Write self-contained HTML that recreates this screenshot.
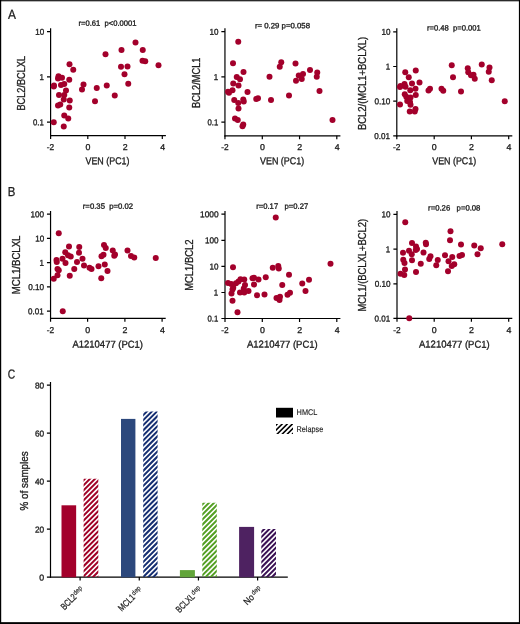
<!DOCTYPE html>
<html lang="en">
<head>
<meta charset="utf-8">
<title>Figure</title>
<style>
html,body{margin:0;padding:0;background:#fff;}
body{width:520px;height:624px;overflow:hidden;}
svg{display:block;font-family:"Liberation Sans",sans-serif;}
.ax path{stroke:#000;stroke-width:1.2;fill:none;}
text{stroke:#1c1c1c;stroke-width:0.32px;white-space:pre;}
</style>
</head>
<body>
<svg width="520" height="624" viewBox="0 0 520 624">
<defs><clipPath id="cr"><rect x="83.60" y="478.70" width="14.70" height="98.30"/></clipPath><clipPath id="cb"><rect x="143.20" y="411.50" width="14.40" height="165.50"/></clipPath><clipPath id="cg"><rect x="202.30" y="502.70" width="14.50" height="74.30"/></clipPath><clipPath id="cp"><rect x="261.30" y="529.10" width="14.70" height="47.90"/></clipPath><clipPath id="ck"><rect x="276.00" y="424.00" width="17.00" height="10.00"/></clipPath></defs>
<rect x="0" y="0" width="520" height="624" fill="#fff"/>
<g class="ax">
<path stroke-width="1.25" d="M50.60 28.20V136.15"/>
<path stroke-width="1.3" d="M50.05 135.60H165.90"/>
<path d="M47.00 31.60H50.60M47.00 76.90H50.60M47.00 122.10H50.60M50.60 135.60V139.00M87.80 135.60V139.00M125.00 135.60V139.00M162.30 135.60V139.00"/>
</g>
<text font-size="8.5" text-anchor="end" textLength="9.00" lengthAdjust="spacingAndGlyphs" transform="translate(44.20 34.65) rotate(0.05)" fill="#1c1c1c" xml:space="preserve">10</text>
<text font-size="8.5" text-anchor="end" textLength="4.40" lengthAdjust="spacingAndGlyphs" transform="translate(43.85 79.95) rotate(0.05)" fill="#1c1c1c" xml:space="preserve">1</text>
<text font-size="8.5" text-anchor="end" textLength="10.80" lengthAdjust="spacingAndGlyphs" transform="translate(43.85 125.15) rotate(0.05)" fill="#1c1c1c" xml:space="preserve">0.1</text>
<text font-size="8.5" text-anchor="middle" textLength="7.40" lengthAdjust="spacingAndGlyphs" transform="translate(50.50 150.00) rotate(0.05)" fill="#1c1c1c" xml:space="preserve">-2</text>
<text font-size="8.5" text-anchor="middle" textLength="4.90" lengthAdjust="spacingAndGlyphs" transform="translate(87.90 150.00) rotate(0.05)" fill="#1c1c1c" xml:space="preserve">0</text>
<text font-size="8.5" text-anchor="middle" textLength="4.90" lengthAdjust="spacingAndGlyphs" transform="translate(125.10 150.00) rotate(0.05)" fill="#1c1c1c" xml:space="preserve">2</text>
<text font-size="8.5" text-anchor="middle" textLength="4.90" lengthAdjust="spacingAndGlyphs" transform="translate(162.65 150.00) rotate(0.05)" fill="#1c1c1c" xml:space="preserve">4</text>
<text font-size="7.7" textLength="58.00" lengthAdjust="spacingAndGlyphs" transform="translate(78.50 25.80) rotate(0.05)" fill="#1c1c1c" xml:space="preserve">r=0.61  p&lt;0.0001</text>
<text font-size="10.4" textLength="54.50" lengthAdjust="spacingAndGlyphs" transform="translate(25.20 110.50) rotate(-90)" fill="#1c1c1c" xml:space="preserve">BCL2/BCLXL</text>
<text font-size="10.0" textLength="44.00" lengthAdjust="spacingAndGlyphs" transform="translate(85.50 164.30) rotate(0.05)" fill="#1c1c1c" xml:space="preserve">VEN (PC1)</text>
<g fill="#A3002B">
<circle cx="135.50" cy="42.50" r="3.0"/>
<circle cx="142.75" cy="50.00" r="3.0"/>
<circle cx="121.50" cy="50.00" r="3.0"/>
<circle cx="105.50" cy="54.25" r="3.0"/>
<circle cx="142.50" cy="60.75" r="3.0"/>
<circle cx="145.25" cy="61.25" r="3.0"/>
<circle cx="158.50" cy="65.25" r="3.0"/>
<circle cx="69.50" cy="64.25" r="3.0"/>
<circle cx="73.25" cy="69.75" r="3.0"/>
<circle cx="121.00" cy="66.75" r="3.0"/>
<circle cx="127.50" cy="66.50" r="3.0"/>
<circle cx="124.50" cy="74.25" r="3.0"/>
<circle cx="58.50" cy="76.25" r="3.0"/>
<circle cx="62.00" cy="77.75" r="3.0"/>
<circle cx="58.00" cy="78.50" r="3.0"/>
<circle cx="69.25" cy="79.75" r="3.0"/>
<circle cx="128.25" cy="83.75" r="3.0"/>
<circle cx="64.25" cy="84.00" r="3.0"/>
<circle cx="61.00" cy="85.00" r="3.0"/>
<circle cx="54.00" cy="85.50" r="3.0"/>
<circle cx="53.75" cy="86.50" r="3.0"/>
<circle cx="83.50" cy="84.50" r="3.0"/>
<circle cx="82.00" cy="89.50" r="3.0"/>
<circle cx="96.75" cy="88.00" r="3.0"/>
<circle cx="106.75" cy="85.50" r="3.0"/>
<circle cx="66.00" cy="90.50" r="3.0"/>
<circle cx="59.00" cy="95.00" r="3.0"/>
<circle cx="64.25" cy="95.00" r="3.0"/>
<circle cx="114.75" cy="95.50" r="3.0"/>
<circle cx="63.75" cy="99.50" r="3.0"/>
<circle cx="69.75" cy="100.50" r="3.0"/>
<circle cx="95.00" cy="101.25" r="3.0"/>
<circle cx="60.25" cy="104.50" r="3.0"/>
<circle cx="58.00" cy="105.50" r="3.0"/>
<circle cx="69.25" cy="107.50" r="3.0"/>
<circle cx="64.25" cy="115.50" r="3.0"/>
<circle cx="68.25" cy="118.50" r="3.0"/>
<circle cx="53.75" cy="122.25" r="3.0"/>
<circle cx="63.75" cy="126.50" r="3.0"/>
</g>
<g class="ax">
<path stroke-width="1.8" d="M224.95 28.20V136.40"/>
<path stroke-width="1.7" d="M224.40 135.85H340.40"/>
<path d="M221.35 31.60H224.95M221.35 76.90H224.95M221.35 122.10H224.95M224.95 135.85V139.25M262.30 135.85V139.25M299.55 135.85V139.25M336.80 135.85V139.25"/>
</g>
<text font-size="8.5" text-anchor="end" textLength="9.00" lengthAdjust="spacingAndGlyphs" transform="translate(218.55 34.65) rotate(0.05)" fill="#1c1c1c" xml:space="preserve">10</text>
<text font-size="8.5" text-anchor="end" textLength="4.40" lengthAdjust="spacingAndGlyphs" transform="translate(218.20 79.95) rotate(0.05)" fill="#1c1c1c" xml:space="preserve">1</text>
<text font-size="8.5" text-anchor="end" textLength="10.80" lengthAdjust="spacingAndGlyphs" transform="translate(218.20 125.15) rotate(0.05)" fill="#1c1c1c" xml:space="preserve">0.1</text>
<text font-size="8.5" text-anchor="middle" textLength="7.40" lengthAdjust="spacingAndGlyphs" transform="translate(224.85 150.00) rotate(0.05)" fill="#1c1c1c" xml:space="preserve">-2</text>
<text font-size="8.5" text-anchor="middle" textLength="4.90" lengthAdjust="spacingAndGlyphs" transform="translate(262.40 150.00) rotate(0.05)" fill="#1c1c1c" xml:space="preserve">0</text>
<text font-size="8.5" text-anchor="middle" textLength="4.90" lengthAdjust="spacingAndGlyphs" transform="translate(299.65 150.00) rotate(0.05)" fill="#1c1c1c" xml:space="preserve">2</text>
<text font-size="8.5" text-anchor="middle" textLength="4.90" lengthAdjust="spacingAndGlyphs" transform="translate(337.15 150.00) rotate(0.05)" fill="#1c1c1c" xml:space="preserve">4</text>
<text font-size="7.7" textLength="55.10" lengthAdjust="spacingAndGlyphs" transform="translate(254.90 28.20) rotate(0.05)" fill="#1c1c1c" xml:space="preserve">r= 0.29 p=0.058</text>
<text font-size="10.4" textLength="50.50" lengthAdjust="spacingAndGlyphs" transform="translate(199.60 108.00) rotate(-90)" fill="#1c1c1c" xml:space="preserve">BCL2/MCL1</text>
<text font-size="10.0" textLength="44.20" lengthAdjust="spacingAndGlyphs" transform="translate(260.00 164.30) rotate(0.05)" fill="#1c1c1c" xml:space="preserve">VEN (PC1)</text>
<g fill="#A3002B">
<circle cx="238.25" cy="41.75" r="3.0"/>
<circle cx="233.00" cy="63.25" r="3.0"/>
<circle cx="281.25" cy="62.25" r="3.0"/>
<circle cx="279.75" cy="66.75" r="3.0"/>
<circle cx="295.50" cy="63.50" r="3.0"/>
<circle cx="243.50" cy="72.00" r="3.0"/>
<circle cx="310.00" cy="70.00" r="3.0"/>
<circle cx="317.25" cy="72.50" r="3.0"/>
<circle cx="303.00" cy="74.00" r="3.0"/>
<circle cx="298.75" cy="75.50" r="3.0"/>
<circle cx="316.75" cy="76.75" r="3.0"/>
<circle cx="236.75" cy="77.00" r="3.0"/>
<circle cx="240.00" cy="79.25" r="3.0"/>
<circle cx="269.50" cy="76.75" r="3.0"/>
<circle cx="301.75" cy="79.00" r="3.0"/>
<circle cx="296.00" cy="80.75" r="3.0"/>
<circle cx="233.25" cy="83.50" r="3.0"/>
<circle cx="238.50" cy="85.50" r="3.0"/>
<circle cx="232.50" cy="90.25" r="3.0"/>
<circle cx="228.00" cy="91.75" r="3.0"/>
<circle cx="229.00" cy="92.75" r="3.0"/>
<circle cx="247.50" cy="92.00" r="3.0"/>
<circle cx="319.50" cy="91.00" r="3.0"/>
<circle cx="289.00" cy="95.50" r="3.0"/>
<circle cx="256.25" cy="99.00" r="3.0"/>
<circle cx="258.00" cy="98.25" r="3.0"/>
<circle cx="271.00" cy="100.00" r="3.0"/>
<circle cx="234.25" cy="100.00" r="3.0"/>
<circle cx="243.25" cy="99.50" r="3.0"/>
<circle cx="243.75" cy="101.50" r="3.0"/>
<circle cx="238.25" cy="103.00" r="3.0"/>
<circle cx="238.50" cy="108.50" r="3.0"/>
<circle cx="235.00" cy="118.50" r="3.0"/>
<circle cx="237.75" cy="120.00" r="3.0"/>
<circle cx="243.25" cy="124.50" r="3.0"/>
<circle cx="242.50" cy="126.25" r="3.0"/>
<circle cx="332.50" cy="120.00" r="3.0"/>
</g>
<g class="ax">
<path stroke-width="1.4" d="M396.80 28.20V136.45"/>
<path stroke-width="1.7" d="M396.25 135.90H512.30"/>
<path d="M393.20 31.80H396.80M393.20 66.50H396.80M393.20 101.20H396.80M393.20 135.90H396.80M396.80 135.90V139.30M434.20 135.90V139.30M471.40 135.90V139.30M508.70 135.90V139.30"/>
</g>
<text font-size="8.5" text-anchor="end" textLength="9.00" lengthAdjust="spacingAndGlyphs" transform="translate(390.40 34.85) rotate(0.05)" fill="#1c1c1c" xml:space="preserve">10</text>
<text font-size="8.5" text-anchor="end" textLength="4.40" lengthAdjust="spacingAndGlyphs" transform="translate(390.05 69.55) rotate(0.05)" fill="#1c1c1c" xml:space="preserve">1</text>
<text font-size="8.5" text-anchor="end" textLength="15.90" lengthAdjust="spacingAndGlyphs" transform="translate(390.40 104.25) rotate(0.05)" fill="#1c1c1c" xml:space="preserve">0.10</text>
<text font-size="8.5" text-anchor="end" textLength="15.70" lengthAdjust="spacingAndGlyphs" transform="translate(390.05 138.95) rotate(0.05)" fill="#1c1c1c" xml:space="preserve">0.01</text>
<text font-size="8.5" text-anchor="middle" textLength="7.40" lengthAdjust="spacingAndGlyphs" transform="translate(396.70 150.00) rotate(0.05)" fill="#1c1c1c" xml:space="preserve">-2</text>
<text font-size="8.5" text-anchor="middle" textLength="4.90" lengthAdjust="spacingAndGlyphs" transform="translate(434.30 150.00) rotate(0.05)" fill="#1c1c1c" xml:space="preserve">0</text>
<text font-size="8.5" text-anchor="middle" textLength="4.90" lengthAdjust="spacingAndGlyphs" transform="translate(471.50 150.00) rotate(0.05)" fill="#1c1c1c" xml:space="preserve">2</text>
<text font-size="8.5" text-anchor="middle" textLength="4.90" lengthAdjust="spacingAndGlyphs" transform="translate(509.05 150.00) rotate(0.05)" fill="#1c1c1c" xml:space="preserve">4</text>
<text font-size="7.7" textLength="53.80" lengthAdjust="spacingAndGlyphs" transform="translate(427.00 30.50) rotate(0.05)" fill="#1c1c1c" xml:space="preserve">r=0.48  p=0.001</text>
<text font-size="10.4" textLength="93.10" lengthAdjust="spacingAndGlyphs" transform="translate(366.10 130.00) rotate(-90)" fill="#1c1c1c" xml:space="preserve">BCL2/(MCL1+BCLXL)</text>
<text font-size="10.0" textLength="44.00" lengthAdjust="spacingAndGlyphs" transform="translate(432.20 164.30) rotate(0.05)" fill="#1c1c1c" xml:space="preserve">VEN (PC1)</text>
<g fill="#A3002B">
<circle cx="451.75" cy="65.25" r="3.0"/>
<circle cx="481.75" cy="64.50" r="3.0"/>
<circle cx="489.50" cy="67.50" r="3.0"/>
<circle cx="467.75" cy="68.25" r="3.0"/>
<circle cx="415.75" cy="70.50" r="3.0"/>
<circle cx="405.25" cy="72.25" r="3.0"/>
<circle cx="488.75" cy="71.75" r="3.0"/>
<circle cx="468.25" cy="72.25" r="3.0"/>
<circle cx="473.50" cy="74.75" r="3.0"/>
<circle cx="471.00" cy="75.25" r="3.0"/>
<circle cx="408.75" cy="77.25" r="3.0"/>
<circle cx="453.00" cy="77.25" r="3.0"/>
<circle cx="474.75" cy="78.75" r="3.0"/>
<circle cx="491.75" cy="80.25" r="3.0"/>
<circle cx="419.50" cy="82.50" r="3.0"/>
<circle cx="412.00" cy="83.50" r="3.0"/>
<circle cx="404.50" cy="84.00" r="3.0"/>
<circle cx="400.50" cy="86.00" r="3.0"/>
<circle cx="400.00" cy="87.00" r="3.0"/>
<circle cx="405.50" cy="86.75" r="3.0"/>
<circle cx="415.50" cy="88.75" r="3.0"/>
<circle cx="410.25" cy="90.25" r="3.0"/>
<circle cx="430.00" cy="88.75" r="3.0"/>
<circle cx="428.50" cy="90.50" r="3.0"/>
<circle cx="441.50" cy="88.75" r="3.0"/>
<circle cx="443.25" cy="90.75" r="3.0"/>
<circle cx="461.00" cy="91.50" r="3.0"/>
<circle cx="404.75" cy="94.25" r="3.0"/>
<circle cx="415.75" cy="95.00" r="3.0"/>
<circle cx="406.25" cy="96.75" r="3.0"/>
<circle cx="410.50" cy="97.50" r="3.0"/>
<circle cx="408.25" cy="99.00" r="3.0"/>
<circle cx="407.25" cy="101.00" r="3.0"/>
<circle cx="410.00" cy="102.00" r="3.0"/>
<circle cx="400.00" cy="104.50" r="3.0"/>
<circle cx="410.50" cy="104.75" r="3.0"/>
<circle cx="415.50" cy="109.00" r="3.0"/>
<circle cx="409.75" cy="111.50" r="3.0"/>
<circle cx="414.75" cy="111.50" r="3.0"/>
<circle cx="504.75" cy="101.25" r="3.0"/>
</g>
<g class="ax">
<path stroke-width="1.25" d="M50.55 211.00V319.00"/>
<path stroke-width="1.25" d="M50.00 318.45H165.70"/>
<path d="M46.95 214.10H50.55M46.95 238.40H50.55M46.95 262.60H50.55M46.95 286.90H50.55M46.95 311.10H50.55M50.55 318.45V321.85M87.60 318.45V321.85M124.90 318.45V321.85M162.10 318.45V321.85"/>
</g>
<text font-size="8.5" text-anchor="end" textLength="13.60" lengthAdjust="spacingAndGlyphs" transform="translate(44.15 217.15) rotate(0.05)" fill="#1c1c1c" xml:space="preserve">100</text>
<text font-size="8.5" text-anchor="end" textLength="9.00" lengthAdjust="spacingAndGlyphs" transform="translate(44.15 241.45) rotate(0.05)" fill="#1c1c1c" xml:space="preserve">10</text>
<text font-size="8.5" text-anchor="end" textLength="4.40" lengthAdjust="spacingAndGlyphs" transform="translate(43.80 265.65) rotate(0.05)" fill="#1c1c1c" xml:space="preserve">1</text>
<text font-size="8.5" text-anchor="end" textLength="15.90" lengthAdjust="spacingAndGlyphs" transform="translate(44.15 289.95) rotate(0.05)" fill="#1c1c1c" xml:space="preserve">0.10</text>
<text font-size="8.5" text-anchor="end" textLength="15.70" lengthAdjust="spacingAndGlyphs" transform="translate(43.80 314.15) rotate(0.05)" fill="#1c1c1c" xml:space="preserve">0.01</text>
<text font-size="8.5" text-anchor="middle" textLength="7.40" lengthAdjust="spacingAndGlyphs" transform="translate(50.45 332.90) rotate(0.05)" fill="#1c1c1c" xml:space="preserve">-2</text>
<text font-size="8.5" text-anchor="middle" textLength="4.90" lengthAdjust="spacingAndGlyphs" transform="translate(87.70 332.90) rotate(0.05)" fill="#1c1c1c" xml:space="preserve">0</text>
<text font-size="8.5" text-anchor="middle" textLength="4.90" lengthAdjust="spacingAndGlyphs" transform="translate(125.00 332.90) rotate(0.05)" fill="#1c1c1c" xml:space="preserve">2</text>
<text font-size="8.5" text-anchor="middle" textLength="4.90" lengthAdjust="spacingAndGlyphs" transform="translate(162.45 332.90) rotate(0.05)" fill="#1c1c1c" xml:space="preserve">4</text>
<text font-size="7.7" textLength="50.30" lengthAdjust="spacingAndGlyphs" transform="translate(82.80 208.80) rotate(0.05)" fill="#1c1c1c" xml:space="preserve">r=0.35  p=0.02</text>
<text font-size="10.4" textLength="58.60" lengthAdjust="spacingAndGlyphs" transform="translate(20.40 294.20) rotate(-90)" fill="#1c1c1c" xml:space="preserve">MCL1/BCLXL</text>
<text font-size="10.0" textLength="70.50" lengthAdjust="spacingAndGlyphs" transform="translate(72.50 347.60) rotate(0.05)" fill="#1c1c1c" xml:space="preserve">A1210477 (PC1)</text>
<g fill="#A3002B">
<circle cx="58.75" cy="233.25" r="3.0"/>
<circle cx="69.00" cy="246.50" r="3.0"/>
<circle cx="79.25" cy="247.00" r="3.0"/>
<circle cx="104.00" cy="245.00" r="3.0"/>
<circle cx="105.75" cy="248.00" r="3.0"/>
<circle cx="65.25" cy="252.25" r="3.0"/>
<circle cx="79.00" cy="252.75" r="3.0"/>
<circle cx="112.75" cy="250.50" r="3.0"/>
<circle cx="127.50" cy="250.50" r="3.0"/>
<circle cx="68.00" cy="255.25" r="3.0"/>
<circle cx="70.75" cy="256.50" r="3.0"/>
<circle cx="115.00" cy="254.50" r="3.0"/>
<circle cx="114.25" cy="255.75" r="3.0"/>
<circle cx="103.50" cy="254.75" r="3.0"/>
<circle cx="101.50" cy="256.25" r="3.0"/>
<circle cx="131.00" cy="256.00" r="3.0"/>
<circle cx="134.25" cy="257.50" r="3.0"/>
<circle cx="155.75" cy="258.00" r="3.0"/>
<circle cx="62.50" cy="258.75" r="3.0"/>
<circle cx="82.50" cy="258.75" r="3.0"/>
<circle cx="56.50" cy="260.00" r="3.0"/>
<circle cx="56.75" cy="262.00" r="3.0"/>
<circle cx="77.00" cy="262.00" r="3.0"/>
<circle cx="65.50" cy="263.00" r="3.0"/>
<circle cx="104.75" cy="264.50" r="3.0"/>
<circle cx="84.00" cy="265.50" r="3.0"/>
<circle cx="98.50" cy="266.25" r="3.0"/>
<circle cx="89.50" cy="267.75" r="3.0"/>
<circle cx="91.50" cy="269.00" r="3.0"/>
<circle cx="74.25" cy="269.00" r="3.0"/>
<circle cx="57.50" cy="269.00" r="3.0"/>
<circle cx="58.75" cy="270.25" r="3.0"/>
<circle cx="107.50" cy="271.00" r="3.0"/>
<circle cx="57.50" cy="275.25" r="3.0"/>
<circle cx="69.75" cy="275.75" r="3.0"/>
<circle cx="53.75" cy="278.75" r="3.0"/>
<circle cx="101.25" cy="278.25" r="3.0"/>
<circle cx="62.75" cy="311.25" r="3.0"/>
</g>
<g class="ax">
<path stroke-width="1.8" d="M225.00 211.00V319.05"/>
<path stroke-width="1.25" d="M224.45 318.50H340.40"/>
<path d="M221.40 214.10H225.00M221.40 240.30H225.00M221.40 266.40H225.00M221.40 292.50H225.00M221.40 318.50H225.00M225.00 318.50V321.90M262.30 318.50V321.90M299.55 318.50V321.90M336.80 318.50V321.90"/>
</g>
<text font-size="8.5" text-anchor="end" textLength="18.60" lengthAdjust="spacingAndGlyphs" transform="translate(218.60 217.15) rotate(0.05)" fill="#1c1c1c" xml:space="preserve">1000</text>
<text font-size="8.5" text-anchor="end" textLength="13.60" lengthAdjust="spacingAndGlyphs" transform="translate(218.60 243.35) rotate(0.05)" fill="#1c1c1c" xml:space="preserve">100</text>
<text font-size="8.5" text-anchor="end" textLength="9.00" lengthAdjust="spacingAndGlyphs" transform="translate(218.60 269.45) rotate(0.05)" fill="#1c1c1c" xml:space="preserve">10</text>
<text font-size="8.5" text-anchor="end" textLength="4.40" lengthAdjust="spacingAndGlyphs" transform="translate(218.25 295.55) rotate(0.05)" fill="#1c1c1c" xml:space="preserve">1</text>
<text font-size="8.5" text-anchor="end" textLength="10.80" lengthAdjust="spacingAndGlyphs" transform="translate(218.25 321.55) rotate(0.05)" fill="#1c1c1c" xml:space="preserve">0.1</text>
<text font-size="8.5" text-anchor="middle" textLength="7.40" lengthAdjust="spacingAndGlyphs" transform="translate(224.90 332.90) rotate(0.05)" fill="#1c1c1c" xml:space="preserve">-2</text>
<text font-size="8.5" text-anchor="middle" textLength="4.90" lengthAdjust="spacingAndGlyphs" transform="translate(262.40 332.90) rotate(0.05)" fill="#1c1c1c" xml:space="preserve">0</text>
<text font-size="8.5" text-anchor="middle" textLength="4.90" lengthAdjust="spacingAndGlyphs" transform="translate(299.65 332.90) rotate(0.05)" fill="#1c1c1c" xml:space="preserve">2</text>
<text font-size="8.5" text-anchor="middle" textLength="4.90" lengthAdjust="spacingAndGlyphs" transform="translate(337.15 332.90) rotate(0.05)" fill="#1c1c1c" xml:space="preserve">4</text>
<text font-size="7.7" textLength="52.00" lengthAdjust="spacingAndGlyphs" transform="translate(256.20 208.80) rotate(0.05)" fill="#1c1c1c" xml:space="preserve">r=0.17   p=0.27</text>
<text font-size="10.4" textLength="51.40" lengthAdjust="spacingAndGlyphs" transform="translate(192.50 290.80) rotate(-90)" fill="#1c1c1c" xml:space="preserve">MCL1/BCL2</text>
<text font-size="10.0" textLength="70.70" lengthAdjust="spacingAndGlyphs" transform="translate(247.00 347.60) rotate(0.05)" fill="#1c1c1c" xml:space="preserve">A1210477 (PC1)</text>
<g fill="#A3002B">
<circle cx="275.75" cy="217.50" r="3.0"/>
<circle cx="330.50" cy="263.75" r="3.0"/>
<circle cx="233.00" cy="267.25" r="3.0"/>
<circle cx="278.25" cy="266.00" r="3.0"/>
<circle cx="272.75" cy="267.75" r="3.0"/>
<circle cx="278.75" cy="268.50" r="3.0"/>
<circle cx="289.00" cy="274.75" r="3.0"/>
<circle cx="265.75" cy="277.25" r="3.0"/>
<circle cx="252.50" cy="278.25" r="3.0"/>
<circle cx="254.00" cy="277.75" r="3.0"/>
<circle cx="258.50" cy="279.50" r="3.0"/>
<circle cx="244.25" cy="279.50" r="3.0"/>
<circle cx="240.50" cy="279.25" r="3.0"/>
<circle cx="238.50" cy="281.50" r="3.0"/>
<circle cx="309.00" cy="279.75" r="3.0"/>
<circle cx="228.00" cy="283.00" r="3.0"/>
<circle cx="231.25" cy="284.00" r="3.0"/>
<circle cx="236.00" cy="283.25" r="3.0"/>
<circle cx="302.25" cy="283.50" r="3.0"/>
<circle cx="245.00" cy="285.00" r="3.0"/>
<circle cx="254.00" cy="284.50" r="3.0"/>
<circle cx="282.25" cy="285.00" r="3.0"/>
<circle cx="233.25" cy="287.75" r="3.0"/>
<circle cx="232.50" cy="289.50" r="3.0"/>
<circle cx="305.50" cy="291.00" r="3.0"/>
<circle cx="240.00" cy="292.50" r="3.0"/>
<circle cx="244.25" cy="292.50" r="3.0"/>
<circle cx="248.50" cy="291.00" r="3.0"/>
<circle cx="231.50" cy="293.50" r="3.0"/>
<circle cx="290.00" cy="292.75" r="3.0"/>
<circle cx="287.50" cy="294.75" r="3.0"/>
<circle cx="257.00" cy="295.25" r="3.0"/>
<circle cx="264.50" cy="294.50" r="3.0"/>
<circle cx="280.00" cy="296.75" r="3.0"/>
<circle cx="276.50" cy="298.00" r="3.0"/>
<circle cx="279.50" cy="300.00" r="3.0"/>
<circle cx="232.50" cy="300.75" r="3.0"/>
<circle cx="237.50" cy="312.25" r="3.0"/>
<circle cx="243.75" cy="288.50" r="3.0"/>
</g>
<g class="ax">
<path stroke-width="1.8" d="M397.00 211.00V319.00"/>
<path stroke-width="1.25" d="M396.45 318.45H512.30"/>
<path d="M393.40 214.30H397.00M393.40 249.10H397.00M393.40 283.80H397.00M393.40 318.45H397.00M397.00 318.45V321.85M434.20 318.45V321.85M471.40 318.45V321.85M508.70 318.45V321.85"/>
</g>
<text font-size="8.5" text-anchor="end" textLength="9.00" lengthAdjust="spacingAndGlyphs" transform="translate(390.60 217.35) rotate(0.05)" fill="#1c1c1c" xml:space="preserve">10</text>
<text font-size="8.5" text-anchor="end" textLength="4.40" lengthAdjust="spacingAndGlyphs" transform="translate(390.25 252.15) rotate(0.05)" fill="#1c1c1c" xml:space="preserve">1</text>
<text font-size="8.5" text-anchor="end" textLength="15.90" lengthAdjust="spacingAndGlyphs" transform="translate(390.60 286.85) rotate(0.05)" fill="#1c1c1c" xml:space="preserve">0.10</text>
<text font-size="8.5" text-anchor="end" textLength="15.70" lengthAdjust="spacingAndGlyphs" transform="translate(390.25 321.50) rotate(0.05)" fill="#1c1c1c" xml:space="preserve">0.01</text>
<text font-size="8.5" text-anchor="middle" textLength="7.40" lengthAdjust="spacingAndGlyphs" transform="translate(396.90 332.90) rotate(0.05)" fill="#1c1c1c" xml:space="preserve">-2</text>
<text font-size="8.5" text-anchor="middle" textLength="4.90" lengthAdjust="spacingAndGlyphs" transform="translate(434.30 332.90) rotate(0.05)" fill="#1c1c1c" xml:space="preserve">0</text>
<text font-size="8.5" text-anchor="middle" textLength="4.90" lengthAdjust="spacingAndGlyphs" transform="translate(471.50 332.90) rotate(0.05)" fill="#1c1c1c" xml:space="preserve">2</text>
<text font-size="8.5" text-anchor="middle" textLength="4.90" lengthAdjust="spacingAndGlyphs" transform="translate(509.05 332.90) rotate(0.05)" fill="#1c1c1c" xml:space="preserve">4</text>
<text font-size="7.7" textLength="52.30" lengthAdjust="spacingAndGlyphs" transform="translate(428.10 210.40) rotate(0.05)" fill="#1c1c1c" xml:space="preserve">r=0.26   p=0.08</text>
<text font-size="10.4" textLength="92.70" lengthAdjust="spacingAndGlyphs" transform="translate(366.30 311.50) rotate(-90)" fill="#1c1c1c" xml:space="preserve">MCL1/(BCLXL+BCL2)</text>
<text font-size="10.0" textLength="70.70" lengthAdjust="spacingAndGlyphs" transform="translate(419.00 347.60) rotate(0.05)" fill="#1c1c1c" xml:space="preserve">A1210477 (PC1)</text>
<g fill="#A3002B">
<circle cx="405.25" cy="222.25" r="3.0"/>
<circle cx="450.50" cy="231.25" r="3.0"/>
<circle cx="450.00" cy="240.25" r="3.0"/>
<circle cx="412.00" cy="243.00" r="3.0"/>
<circle cx="425.75" cy="242.75" r="3.0"/>
<circle cx="426.00" cy="244.25" r="3.0"/>
<circle cx="461.00" cy="244.50" r="3.0"/>
<circle cx="474.25" cy="245.50" r="3.0"/>
<circle cx="502.25" cy="244.25" r="3.0"/>
<circle cx="416.00" cy="246.50" r="3.0"/>
<circle cx="480.75" cy="248.25" r="3.0"/>
<circle cx="417.00" cy="249.00" r="3.0"/>
<circle cx="415.75" cy="250.00" r="3.0"/>
<circle cx="409.00" cy="250.75" r="3.0"/>
<circle cx="403.00" cy="252.75" r="3.0"/>
<circle cx="423.50" cy="252.50" r="3.0"/>
<circle cx="411.75" cy="254.25" r="3.0"/>
<circle cx="477.50" cy="254.25" r="3.0"/>
<circle cx="445.00" cy="255.25" r="3.0"/>
<circle cx="462.00" cy="255.00" r="3.0"/>
<circle cx="459.50" cy="256.00" r="3.0"/>
<circle cx="430.50" cy="256.25" r="3.0"/>
<circle cx="452.25" cy="257.00" r="3.0"/>
<circle cx="429.25" cy="259.00" r="3.0"/>
<circle cx="403.25" cy="259.75" r="3.0"/>
<circle cx="412.00" cy="260.25" r="3.0"/>
<circle cx="437.75" cy="260.00" r="3.0"/>
<circle cx="448.50" cy="261.25" r="3.0"/>
<circle cx="404.50" cy="263.00" r="3.0"/>
<circle cx="420.75" cy="263.75" r="3.0"/>
<circle cx="454.25" cy="264.25" r="3.0"/>
<circle cx="436.25" cy="265.25" r="3.0"/>
<circle cx="451.75" cy="266.00" r="3.0"/>
<circle cx="405.00" cy="269.50" r="3.0"/>
<circle cx="448.00" cy="271.25" r="3.0"/>
<circle cx="416.00" cy="272.00" r="3.0"/>
<circle cx="400.50" cy="273.75" r="3.0"/>
<circle cx="404.25" cy="275.00" r="3.0"/>
<circle cx="409.25" cy="318.25" r="3.0"/>
</g>
<text font-size="13.0" textLength="7.90" lengthAdjust="spacingAndGlyphs" transform="translate(8.00 18.80) rotate(0.05)" fill="#1c1c1c" style="stroke-width:0.3px" xml:space="preserve">A</text>
<text font-size="13.0" textLength="7.60" lengthAdjust="spacingAndGlyphs" transform="translate(7.70 196.00) rotate(0.05)" fill="#1c1c1c" style="stroke-width:0.3px" xml:space="preserve">B</text>
<text font-size="13.0" textLength="7.40" lengthAdjust="spacingAndGlyphs" transform="translate(7.80 378.60) rotate(0.05)" fill="#1c1c1c" style="stroke-width:0.3px" xml:space="preserve">C</text>
<g class="ax">
<path stroke-width="1.15" d="M50.5 382.0V577.7"/>
<path stroke-width="1.45" d="M49.95 577.1H287.8"/>
<path d="M46.9 577.20H50.5M46.9 529.20H50.5M46.9 481.20H50.5M46.9 433.20H50.5M46.9 385.20H50.5M80.10 577.0V580.4M139.27 577.0V580.4M198.44 577.0V580.4M257.61 577.0V580.4"/>
</g>
<text font-size="8.5" text-anchor="end" textLength="4.90" lengthAdjust="spacingAndGlyphs" transform="translate(44.10 580.50) rotate(0.05)" fill="#1c1c1c" xml:space="preserve">0</text>
<text font-size="8.5" text-anchor="end" textLength="9.20" lengthAdjust="spacingAndGlyphs" transform="translate(44.10 532.50) rotate(0.05)" fill="#1c1c1c" xml:space="preserve">20</text>
<text font-size="8.5" text-anchor="end" textLength="9.20" lengthAdjust="spacingAndGlyphs" transform="translate(44.10 484.50) rotate(0.05)" fill="#1c1c1c" xml:space="preserve">40</text>
<text font-size="8.5" text-anchor="end" textLength="9.20" lengthAdjust="spacingAndGlyphs" transform="translate(44.10 436.50) rotate(0.05)" fill="#1c1c1c" xml:space="preserve">60</text>
<text font-size="8.5" text-anchor="end" textLength="9.20" lengthAdjust="spacingAndGlyphs" transform="translate(44.10 388.50) rotate(0.05)" fill="#1c1c1c" xml:space="preserve">80</text>
<text font-size="10.2" textLength="59.20" lengthAdjust="spacingAndGlyphs" transform="translate(27.50 510.50) rotate(-90)" fill="#1c1c1c" xml:space="preserve">% of samples</text>
<rect x="61.50" y="505.30" width="14.65" height="72.00" fill="#A3002B"/>
<path clip-path="url(#cr)" d="M81.60 472.02L100.30 453.32M81.60 477.08L100.30 458.38M81.60 482.14L100.30 463.44M81.60 487.20L100.30 468.50M81.60 492.26L100.30 473.56M81.60 497.32L100.30 478.62M81.60 502.38L100.30 483.68M81.60 507.44L100.30 488.74M81.60 512.50L100.30 493.80M81.60 517.56L100.30 498.86M81.60 522.62L100.30 503.92M81.60 527.68L100.30 508.98M81.60 532.74L100.30 514.04M81.60 537.80L100.30 519.10M81.60 542.86L100.30 524.16M81.60 547.92L100.30 529.22M81.60 552.98L100.30 534.28M81.60 558.04L100.30 539.34M81.60 563.10L100.30 544.40M81.60 568.16L100.30 549.46M81.60 573.22L100.30 554.52M81.60 578.28L100.30 559.58M81.60 583.34L100.30 564.64M81.60 588.40L100.30 569.70M81.60 593.46L100.30 574.76M81.60 598.52L100.30 579.82M81.60 603.58L100.30 584.88" stroke="#A00026" stroke-width="1.97" fill="none"/>
<rect x="121.00" y="418.90" width="14.40" height="158.40" fill="#2C487C"/>
<path clip-path="url(#cb)" d="M141.20 407.02L159.60 388.62M141.20 412.08L159.60 393.68M141.20 417.14L159.60 398.74M141.20 422.20L159.60 403.80M141.20 427.26L159.60 408.86M141.20 432.32L159.60 413.92M141.20 437.38L159.60 418.98M141.20 442.44L159.60 424.04M141.20 447.50L159.60 429.10M141.20 452.56L159.60 434.16M141.20 457.62L159.60 439.22M141.20 462.68L159.60 444.28M141.20 467.74L159.60 449.34M141.20 472.80L159.60 454.40M141.20 477.86L159.60 459.46M141.20 482.92L159.60 464.52M141.20 487.98L159.60 469.58M141.20 493.04L159.60 474.64M141.20 498.10L159.60 479.70M141.20 503.16L159.60 484.76M141.20 508.22L159.60 489.82M141.20 513.28L159.60 494.88M141.20 518.34L159.60 499.94M141.20 523.40L159.60 505.00M141.20 528.46L159.60 510.06M141.20 533.52L159.60 515.12M141.20 538.58L159.60 520.18M141.20 543.64L159.60 525.24M141.20 548.70L159.60 530.30M141.20 553.76L159.60 535.36M141.20 558.82L159.60 540.42M141.20 563.88L159.60 545.48M141.20 568.94L159.60 550.54M141.20 574.00L159.60 555.60M141.20 579.06L159.60 560.66M141.20 584.12L159.60 565.72M141.20 589.18L159.60 570.78M141.20 594.24L159.60 575.84M141.20 599.30L159.60 580.90" stroke="#162F72" stroke-width="2.00" fill="none"/>
<rect x="179.90" y="570.10" width="15.00" height="7.20" fill="#62A53A"/>
<path clip-path="url(#cg)" d="M200.30 496.32L218.80 477.82M200.30 501.38L218.80 482.88M200.30 506.44L218.80 487.94M200.30 511.50L218.80 493.00M200.30 516.56L218.80 498.06M200.30 521.62L218.80 503.12M200.30 526.68L218.80 508.18M200.30 531.74L218.80 513.24M200.30 536.80L218.80 518.30M200.30 541.86L218.80 523.36M200.30 546.92L218.80 528.42M200.30 551.98L218.80 533.48M200.30 557.04L218.80 538.54M200.30 562.10L218.80 543.60M200.30 567.16L218.80 548.66M200.30 572.22L218.80 553.72M200.30 577.28L218.80 558.78M200.30 582.34L218.80 563.84M200.30 587.40L218.80 568.90M200.30 592.46L218.80 573.96M200.30 597.52L218.80 579.02M200.30 602.58L218.80 584.08" stroke="#54A024" stroke-width="2.00" fill="none"/>
<rect x="239.10" y="526.90" width="15.00" height="50.40" fill="#4E2261"/>
<path clip-path="url(#cp)" d="M259.30 523.92L278.00 505.22M259.30 528.98L278.00 510.28M259.30 534.04L278.00 515.34M259.30 539.10L278.00 520.40M259.30 544.16L278.00 525.46M259.30 549.22L278.00 530.52M259.30 554.28L278.00 535.58M259.30 559.34L278.00 540.64M259.30 564.40L278.00 545.70M259.30 569.46L278.00 550.76M259.30 574.52L278.00 555.82M259.30 579.58L278.00 560.88M259.30 584.64L278.00 565.94M259.30 589.70L278.00 571.00M259.30 594.76L278.00 576.06M259.30 599.82L278.00 581.12" stroke="#3A1054" stroke-width="2.00" fill="none"/>
<rect x="276" y="407.8" width="17" height="9.7" fill="#000"/>
<path clip-path="url(#ck)" d="M274.00 417.02L295.00 396.02M274.00 422.08L295.00 401.08M274.00 427.14L295.00 406.14M274.00 432.20L295.00 411.20M274.00 437.26L295.00 416.26M274.00 442.32L295.00 421.32M274.00 447.38L295.00 426.38M274.00 452.44L295.00 431.44M274.00 457.50L295.00 436.50M274.00 462.56L295.00 441.56" stroke="#000" stroke-width="1.57" fill="none"/>
<text font-size="8.4" textLength="20.80" lengthAdjust="spacingAndGlyphs" transform="translate(296.60 415.00) rotate(0.05)" fill="#1c1c1c" style="stroke-width:0.15px" xml:space="preserve">HMCL</text>
<text font-size="8.4" textLength="26.60" lengthAdjust="spacingAndGlyphs" transform="translate(296.60 431.90) rotate(0.05)" fill="#1c1c1c" style="stroke-width:0.15px" xml:space="preserve">Relapse</text>
<g transform="translate(64.40 610.40) rotate(-45)">
<text x="0" y="0" font-size="9.3" textLength="18.0" lengthAdjust="spacingAndGlyphs" fill="#1c1c1c" style="stroke-width:0.25px">BCL2</text>
<text x="18.40" y="-2.7" font-size="6.7" textLength="10.0" lengthAdjust="spacingAndGlyphs" fill="#1c1c1c" style="stroke-width:0.15px">dep</text>
</g>
<g transform="translate(121.80 611.80) rotate(-45)">
<text x="0" y="0" font-size="9.3" textLength="19.6" lengthAdjust="spacingAndGlyphs" fill="#1c1c1c" style="stroke-width:0.25px">MCL1</text>
<text x="20.10" y="-2.7" font-size="6.7" textLength="10.0" lengthAdjust="spacingAndGlyphs" fill="#1c1c1c" style="stroke-width:0.15px">dep</text>
</g>
<g transform="translate(179.40 613.20) rotate(-45)">
<text x="0" y="0" font-size="9.3" textLength="22.4" lengthAdjust="spacingAndGlyphs" fill="#1c1c1c" style="stroke-width:0.25px">BCLXL</text>
<text x="22.80" y="-2.7" font-size="6.7" textLength="10.0" lengthAdjust="spacingAndGlyphs" fill="#1c1c1c" style="stroke-width:0.15px">dep</text>
</g>
<g transform="translate(247.30 605.60) rotate(-45)">
<text x="0" y="0" font-size="9.3" textLength="10.6" lengthAdjust="spacingAndGlyphs" fill="#1c1c1c" style="stroke-width:0.25px">No</text>
<text x="11.90" y="-2.7" font-size="6.7" textLength="10.0" lengthAdjust="spacingAndGlyphs" fill="#1c1c1c" style="stroke-width:0.15px">dep</text>
</g>
<g>
<rect x="0" y="0" width="520" height="1" fill="#2a2a2a"/>
<rect x="0" y="1" width="520" height="1" fill="#2a2a2a" opacity="0.35"/>
<rect x="0" y="0" width="1" height="624" fill="#000"/>
<rect x="1" y="0" width="1" height="624" fill="#000" opacity="0.2"/>
<rect x="519" y="0" width="1" height="624" fill="#000"/>
<rect x="518" y="0" width="1" height="624" fill="#000" opacity="0.1"/>
<rect x="0" y="623" width="520" height="1" fill="#000"/>
<rect x="0" y="622" width="520" height="1" fill="#000" opacity="0.85"/>
</g>
</svg>
</body>
</html>
